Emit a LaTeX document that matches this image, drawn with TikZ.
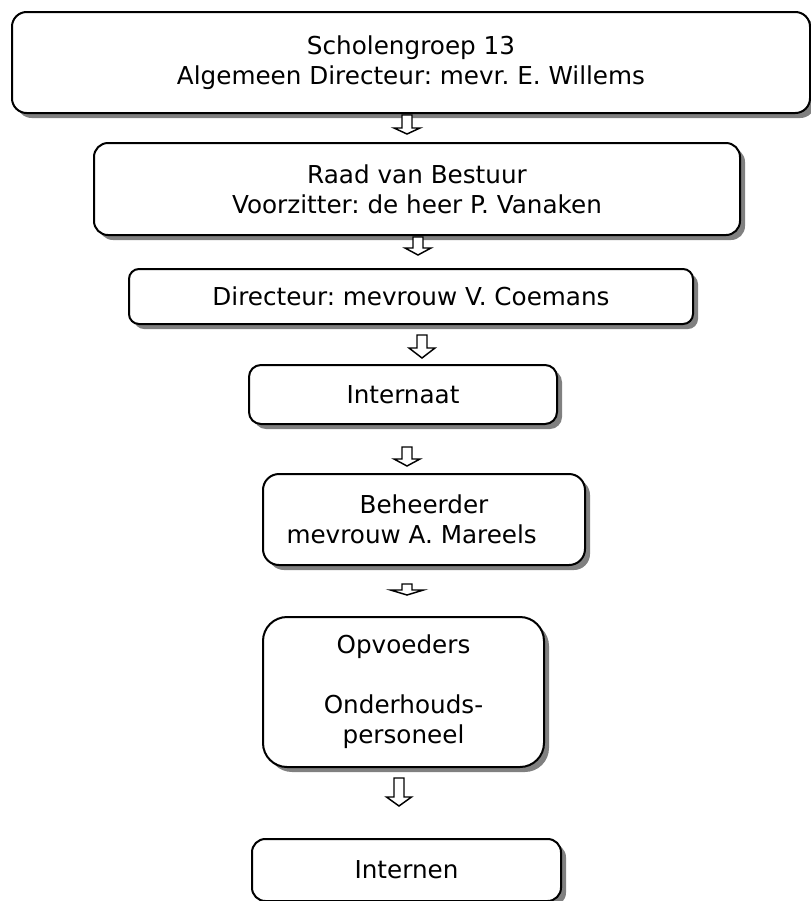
\documentclass[tikz,border=0pt]{standalone}
\usepackage{fontspec}
\setmainfont{DejaVu Sans}
\usetikzlibrary{shadows}
\frenchspacing

\begin{document}
\begin{tikzpicture}[x=0.75pt, y=-0.75pt, font=\fontsize{18.5}{22.5}\selectfont,
                    box/.style = {draw, line width=1.5pt, fill=white, align=center, inner sep=0pt,
                                  drop shadow={shadow xshift=3.75pt, shadow yshift=-3.75pt, fill=black!50, opacity=1}},
                    pics/hollowdown/.style n args={3}{code={
                        \draw[fill=white, line width=1.1pt] (-5,0) -- (5,0) -- (5,#1-#2) -- (#3,#1-#2) -- (0,#1)
                              -- (-#3,#1-#2) -- (-5,#1-#2) -- cycle;}}]
    \useasboundingbox (0,0) rectangle (811,901);

    \node[box, minimum width=598.5pt, minimum height=75.75pt, rounded corners=11pt] (groep) at (411,62.5)
        {Scholengroep 13\\Algemeen Directeur: mevr. E. Willems};
    \node[box, minimum width=484.5pt, minimum height=69pt, rounded corners=10.5pt] (raad) at (417,189)
        {Raad van Bestuur\\Voorzitter: de heer P. Vanaken};
    \node[box, minimum width=423pt, minimum height=41.25pt, rounded corners=7.5pt] (dir) at (411,296.5)
        {Directeur: mevrouw V. Coemans};
    \node[box, minimum width=231pt, minimum height=44.25pt, rounded corners=9pt] (internaat) at (403,394.5)
        {Internaat};
    \node[box, minimum width=241.5pt, minimum height=68.25pt, rounded corners=12pt] (beheer) at (424,519.5)
        {Beheerder\\mevrouw A. Mareels\hspace*{1em}};
    \node[box, minimum width=210.75pt, minimum height=112.5pt, rounded corners=18pt] (personeel) at (403.5,692)
        {Opvoeders\\ \\Onderhouds-\\personeel};
    \node[box, minimum width=231.75pt, minimum height=46.5pt, rounded corners=10pt] (internen) at (406.5,870)
        {Internen};

    % hollow arrows between the boxes
    \pic at (407,115) {hollowdown={19}{6}{13}};
    \pic at (418,237) {hollowdown={18}{7}{13}};
    \pic at (422,335) {hollowdown={23}{10}{13}};
    \pic at (407,447) {hollowdown={19}{7}{13}};
    \pic at (407,584) {hollowdown={11}{5}{16.5}};
    \pic at (399,778) {hollowdown={28}{9}{12.5}};
\end{tikzpicture}
\end{document}
